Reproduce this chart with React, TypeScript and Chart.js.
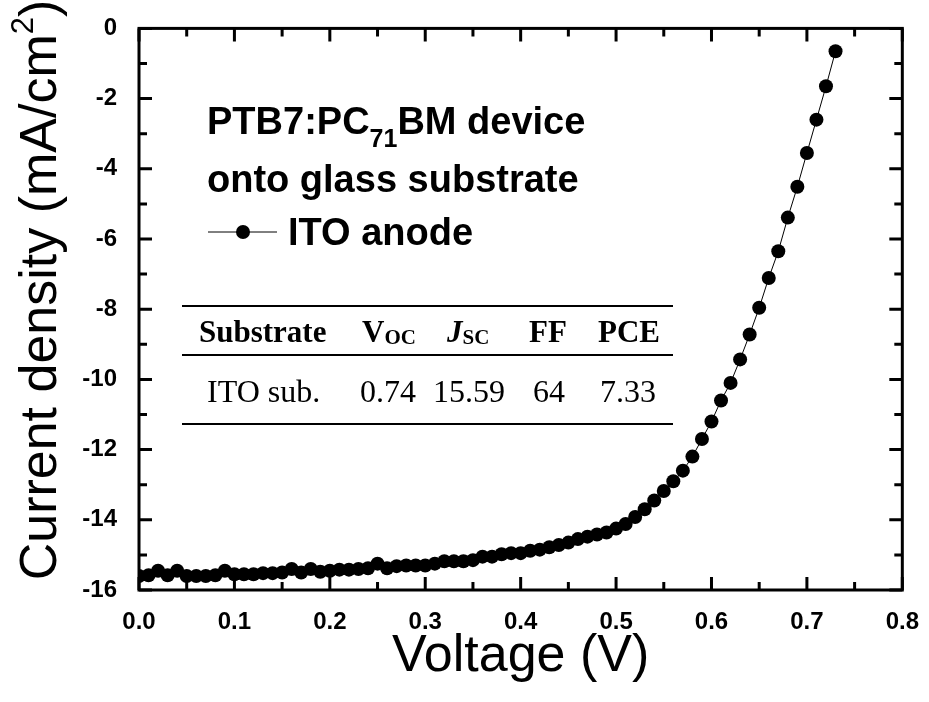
import React, { useEffect, useRef } from "react";
import { Chart, registerables } from "chart.js";
Chart.register(...registerables);

const voltage = [
  0.0, 0.01, 0.02, 0.03, 0.04, 0.05, 0.06, 0.07, 0.08, 0.09,
  0.1, 0.11, 0.12, 0.13, 0.14, 0.15, 0.16, 0.17, 0.18, 0.19,
  0.2, 0.21, 0.22, 0.23, 0.24, 0.25, 0.26, 0.27, 0.28, 0.29,
  0.3, 0.31, 0.32, 0.33, 0.34, 0.35, 0.36, 0.37, 0.38, 0.39,
  0.4, 0.41, 0.42, 0.43, 0.44, 0.45, 0.46, 0.47, 0.48, 0.49,
  0.5, 0.51, 0.52, 0.53, 0.54, 0.55, 0.56, 0.57, 0.58, 0.59,
  0.6, 0.61, 0.62, 0.63, 0.64, 0.65, 0.66, 0.67, 0.68, 0.69,
  0.7, 0.71, 0.72, 0.73,
];
const currentDensity = [
  -15.6, -15.58, -15.45, -15.58, -15.45, -15.6, -15.6, -15.6, -15.58, -15.45,
  -15.55, -15.55, -15.55, -15.52, -15.52, -15.5, -15.4, -15.5, -15.4, -15.48,
  -15.45, -15.42, -15.42, -15.4, -15.38, -15.25, -15.38, -15.32, -15.3, -15.3,
  -15.3, -15.25, -15.18, -15.18, -15.18, -15.15, -15.05, -15.05, -14.98, -14.95,
  -14.95, -14.88, -14.85, -14.78, -14.72, -14.65, -14.55, -14.48, -14.42, -14.36,
  -14.25, -14.12, -13.92, -13.7, -13.45, -13.18, -12.9, -12.6, -12.2, -11.7,
  -11.2, -10.6, -10.1, -9.43, -8.72, -7.96, -7.11, -6.35, -5.39, -4.51,
  -3.55, -2.6, -1.65, -0.65,
];

const xTickValues = [0, 0.1, 0.2, 0.3, 0.4, 0.5, 0.6, 0.7, 0.8];
const yTickValues = [0, -2, -4, -6, -8, -10, -12, -14, -16];

const seriesName = "ITO anode";
const titleLine1 = ["PTB7:PC", "71", "BM device"];
const titleLine2 = "onto glass substrate";
const tableHeaders = [
  ["Substrate", ""],
  ["V", "OC"],
  ["J", "SC"],
  ["FF", ""],
  ["PCE", ""],
];
const tableRow = ["ITO sub.", "0.74", "15.59", "64", "7.33"];

const SANS = "'Liberation Sans', Arial, Helvetica, sans-serif";
const NARROW = "'Liberation Sans Narrow', 'Arial Narrow', 'Liberation Sans', Arial, sans-serif";
const SERIF = "'Liberation Serif', 'Times New Roman', Times, serif";

const decorPlugin = {
  id: "decor",
  afterDraw(chart: any) {
    const ctx = chart.ctx as CanvasRenderingContext2D;
    const { left, right, top, bottom } = chart.chartArea;
    const xs = chart.scales.x;
    const ys = chart.scales.y;
    ctx.save();
    ctx.strokeStyle = "#000";
    ctx.fillStyle = "#000";
    // ticks (inward, mirrored)
    ctx.lineWidth = 3;
    ctx.lineCap = "butt";
    for (let i = 0; i <= 16; i++) {
      const v = i * 0.05;
      const px = xs.getPixelForValue(v);
      const len = i % 2 === 0 ? 13 : 8;
      ctx.beginPath();
      ctx.moveTo(px, bottom);
      ctx.lineTo(px, bottom - len);
      ctx.moveTo(px, top);
      ctx.lineTo(px, top + len);
      ctx.stroke();
    }
    for (let i = 0; i <= 16; i++) {
      const v = -i;
      const py = ys.getPixelForValue(v);
      const len = i % 2 === 0 ? 13 : 8;
      ctx.beginPath();
      ctx.moveTo(left, py);
      ctx.lineTo(left + len, py);
      ctx.moveTo(right, py);
      ctx.lineTo(right - len, py);
      ctx.stroke();
    }
    // frame
    ctx.lineWidth = 3;
    ctx.strokeRect(left, top, right - left, bottom - top);

    // y-axis title with superscript
    ctx.save();
    ctx.translate(42, 290);
    ctx.rotate(-Math.PI / 2);
    const mainFont = `52px ${SANS}`;
    const supFont = `31px ${SANS}`;
    const partA = "Current density (mA/cm";
    const partB = "2";
    const partC = ")";
    ctx.font = mainFont;
    const wA = ctx.measureText(partA).width;
    const wC = ctx.measureText(partC).width;
    ctx.font = supFont;
    const wB = ctx.measureText(partB).width;
    const total = wA + wB + wC;
    const x0 = -total / 2;
    ctx.textBaseline = "middle";
    ctx.textAlign = "left";
    ctx.font = mainFont;
    ctx.fillText(partA, x0, 0);
    ctx.font = supFont;
    ctx.fillText(partB, x0 + wA, -18);
    ctx.font = mainFont;
    ctx.fillText(partC, x0 + wA + wB, 0);
    ctx.restore();

    // annotation title
    ctx.textBaseline = "alphabetic";
    ctx.textAlign = "left";
    const bold = `bold 38px ${SANS}`;
    const subBold = `bold 25px ${SANS}`;
    let x = 207;
    ctx.font = bold;
    ctx.fillText(titleLine1[0], x, 134);
    x += ctx.measureText(titleLine1[0]).width;
    ctx.font = subBold;
    ctx.fillText(titleLine1[1], x, 147);
    x += ctx.measureText(titleLine1[1]).width;
    ctx.font = bold;
    ctx.fillText(titleLine1[2], x, 134);
    ctx.fillText(titleLine2, 207, 192);

    // legend entry
    ctx.lineWidth = 1;
    ctx.beginPath();
    ctx.moveTo(208, 232);
    ctx.lineTo(277, 232);
    ctx.stroke();
    ctx.beginPath();
    ctx.arc(243, 232, 7, 0, Math.PI * 2);
    ctx.fill();
    ctx.font = bold;
    ctx.fillText(seriesName, 288, 245);

    // table
    ctx.lineWidth = 2;
    [306, 355, 424].forEach((yy) => {
      ctx.beginPath();
      ctx.moveTo(182, yy);
      ctx.lineTo(673, yy);
      ctx.stroke();
    });
    const headX = [199, 362, 447, 529, 598];
    tableHeaders.forEach((h, i) => {
      const italic = h[0] === "J" ? "italic " : "";
      ctx.font = `${italic}bold 31px ${SERIF}`;
      ctx.fillText(h[0], headX[i], 342);
      if (h[1]) {
        const w = ctx.measureText(h[0]).width;
        ctx.font = `bold 21px ${SERIF}`;
        ctx.fillText(h[1], headX[i] + w, 344);
      }
    });
    const rowX = [207, 360, 433, 533, 600];
    ctx.font = `32px ${SERIF}`;
    tableRow.forEach((t, i) => ctx.fillText(t, rowX[i], 402));
    ctx.restore();
  },
};

export default function App() {
  const ref = useRef<HTMLCanvasElement | null>(null);
  useEffect(() => {
    if (!ref.current) return;
    const chart = new Chart(ref.current, {
      type: "line",
      data: {
        datasets: [
          {
            label: seriesName,
            data: voltage.map((v, i) => ({ x: v, y: currentDensity[i] })),
            borderColor: "#000",
            backgroundColor: "#000",
            borderWidth: 1,
            pointRadius: 7,
            pointBackgroundColor: "#000",
            pointBorderColor: "#000",
            pointBorderWidth: 0,
            tension: 0,
          },
        ],
      },
      options: {
        responsive: false,
        animation: false,
        layout: { padding: { left: 0, top: 23, right: 21, bottom: 0 } },
        plugins: { legend: { display: false }, tooltip: { enabled: false } },
        scales: {
          x: {
            type: "linear",
            min: 0,
            max: 0.8,
            afterBuildTicks: (s: any) => {
              s.ticks = xTickValues.map((v) => ({ value: v }));
            },
            afterFit: (s: any) => {
              s.height = 112;
            },
            ticks: {
              color: "#000",
              font: { family: NARROW, size: 24, weight: "bold" },
              padding: 10,
              maxRotation: 0,
              autoSkip: false,
              callback: (v: any) => Number(v).toFixed(1),
            },
            grid: { display: false },
            border: { display: false },
            title: {
              display: true,
              text: "Voltage (V)",
              color: "#000",
              font: { family: SANS, size: 52, weight: "normal", lineHeight: 1.2 },
              padding: { top: 0, bottom: 14 },
            },
          },
          y: {
            type: "linear",
            min: -16,
            max: 0,
            afterBuildTicks: (s: any) => {
              s.ticks = yTickValues.map((v) => ({ value: v }));
            },
            afterFit: (s: any) => {
              s.width = 139;
            },
            ticks: {
              color: "#000",
              font: { family: NARROW, size: 24, weight: "bold" },
              padding: 14,
              autoSkip: false,
              callback: (v: any) => String(v),
            },
            grid: { display: false },
            border: { display: false },
          },
        },
      },
      plugins: [decorPlugin],
    });
    return () => chart.destroy();
  }, []);
  return (
    <div style={{ position: "absolute", left: 0, top: 0, width: 929, height: 702, background: "#fff" }}>
      <canvas ref={ref} width={929} height={702} />
    </div>
  );
}
